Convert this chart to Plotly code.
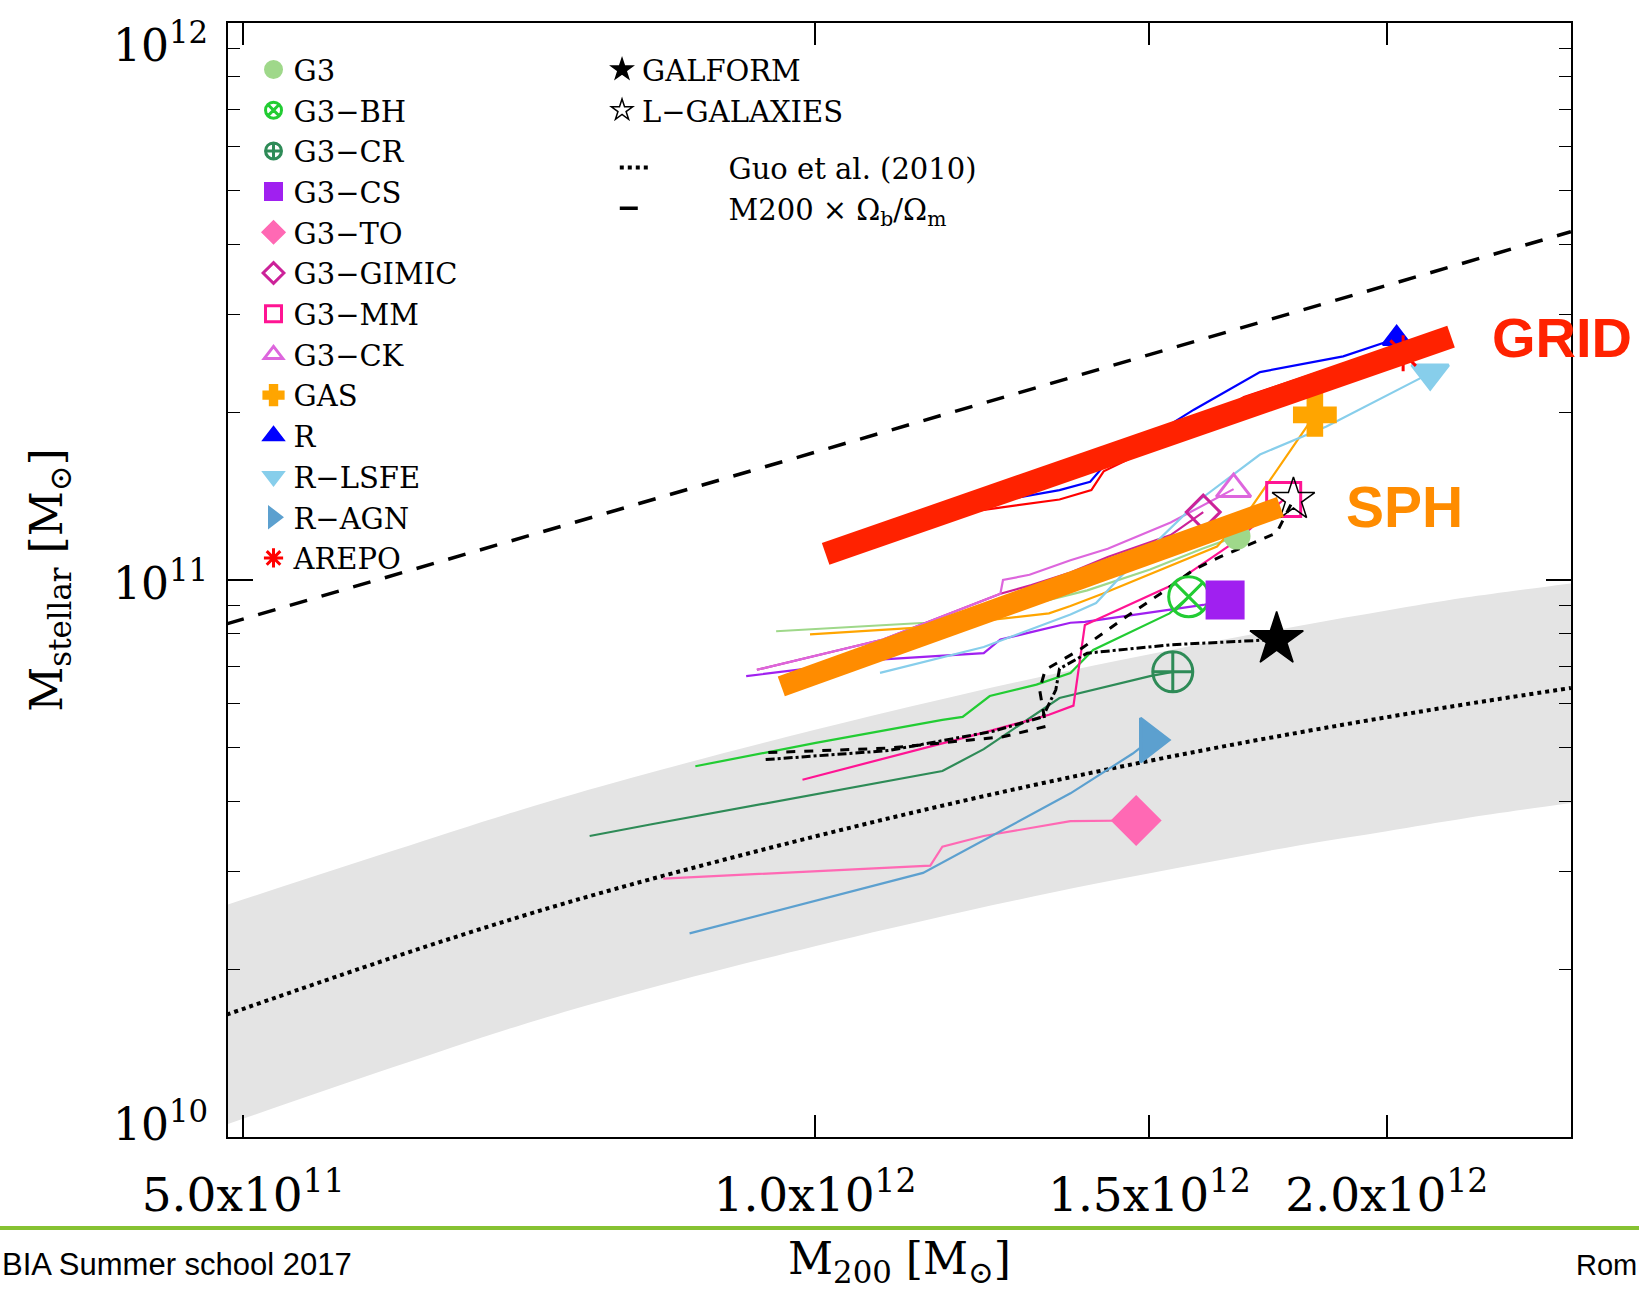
import math
import plotly.graph_objects as go

# ------------------------------------------------------------------
# Data  (M200 in units of 1e12 Msun, M_stellar in units of 1e10 Msun)
# ------------------------------------------------------------------
# Guo et al. (2010) relation and its scatter band
band_m200 = [0.49, 0.6, 0.7, 0.8, 1.0, 1.2, 1.4, 1.6, 1.8, 2.0, 2.2, 2.5]
guo_mstar = [1.658, 2.102, 2.488, 2.839, 3.464, 4.022, 4.512, 4.945, 5.327, 5.671, 5.983, 6.40]
band_upper = [2.610, 3.267, 3.866, 4.412, 5.383, 6.250, 7.012, 7.685, 8.278, 8.813, 9.298, 9.856]
band_lower = [1.053, 1.335, 1.588, 1.812, 2.201, 2.544, 2.842, 3.101, 3.341, 3.541, 3.736, 3.979]

# M200 x Omega_b/Omega_m
baryon_m200 = [0.49, 2.5]
baryon_mstar = [8.34, 42.2]

# simulations
g3_m200 = [0.954, 1.026, 1.144, 1.256, 1.391, 1.501, 1.599, 1.668]
g3_mstar = [8.09, 8.20, 8.38, 8.78, 9.58, 10.44, 11.38, 11.99]

g3bh_m200 = [0.865, 1.001, 1.167, 1.196, 1.236, 1.308, 1.363, 1.401, 1.537, 1.573]
g3bh_mstar = [4.63, 5.10, 5.61, 5.68, 6.19, 6.49, 6.81, 7.49, 8.71, 9.33]

g3cr_m200 = [0.761, 0.819, 1.167, 1.227, 1.345, 1.501, 1.543]
g3cr_mstar = [3.47, 3.64, 4.54, 4.97, 6.14, 6.72, 6.84]

g3cs_m200 = [0.920, 1.086, 1.227, 1.252, 1.363, 1.387, 1.601, 1.644]
g3cs_mstar = [6.72, 7.20, 7.39, 7.82, 8.38, 8.41, 9.02, 9.21]

g3to_m200 = [0.832, 1.150, 1.167, 1.227, 1.363, 1.476]
g3to_mstar = [2.91, 3.07, 3.32, 3.47, 3.69, 3.70]

g3ck_m200 = [0.932, 1.086, 1.252, 1.256, 1.297, 1.363, 1.426, 1.539, 1.661]
g3ck_mstar = [6.90, 7.82, 9.45, 10.00, 10.22, 10.85, 11.38, 12.68, 14.56]

g3gimic_m200 = [0.932, 1.086, 1.252, 1.300, 1.363, 1.426, 1.539, 1.601]
g3gimic_mstar = [6.90, 7.82, 9.45, 9.79, 10.31, 11.00, 12.04, 13.24]

g3mm_m200 = [0.985, 1.227, 1.328, 1.368, 1.387, 1.537, 1.668, 1.765]
g3mm_mstar = [4.38, 5.32, 5.73, 5.95, 8.30, 9.74, 11.78, 13.95]

gas_m200 = [0.994, 1.144, 1.328, 1.363, 1.417, 1.628, 1.689, 1.833]
gas_mstar = [7.99, 8.23, 8.71, 8.98, 9.45, 11.48, 13.19, 19.79]

r_m200 = [1.172, 1.227, 1.345, 1.396, 1.419, 1.583, 1.715, 1.897, 2.024]
r_mstar = [13.42, 13.71, 14.50, 15.01, 16.02, 20.22, 23.62, 25.21, 27.13]

arepo_m200 = [1.172, 1.227, 1.345, 1.398, 1.419, 1.579, 1.682, 1.885, 2.040]
arepo_mstar = [13.13, 13.36, 13.95, 14.50, 15.67, 18.71, 21.30, 24.24, 25.54]

rlsfe_m200 = [1.082, 1.227, 1.363, 1.406, 1.448, 1.595, 1.715, 1.859, 2.108]
rlsfe_mstar = [6.81, 7.58, 8.67, 9.09, 10.13, 13.95, 16.80, 18.87, 23.52]

ragn_m200 = [0.859, 1.140, 1.363, 1.470, 1.501]
ragn_mstar = [2.32, 2.98, 4.14, 4.88, 5.16]

galform_m200 = [0.942, 1.093, 1.241, 1.318, 1.339, 1.345, 1.391, 1.539, 1.750]
galform_mstar = [4.76, 4.94, 5.35, 5.68, 6.35, 6.93, 7.39, 7.65, 7.82]

lgal_m200 = [0.945, 1.093, 1.256, 1.323, 1.313, 1.322, 1.378, 1.459, 1.520, 1.583, 1.634, 1.750, 1.786]
lgal_mstar = [4.90, 4.99, 5.23, 5.46, 6.35, 6.90, 7.49, 8.60, 9.45, 10.44, 11.00, 12.15, 13.95]

# highlight bars
grid_bar_m200 = [1.013, 2.162]
grid_bar_mstar = [11.14, 27.35]
sph_bar_m200 = [0.960, 1.758]
sph_bar_mstar = [6.44, 13.53]

# axis ticks
x_tickvals = [0.5, 1.0, 1.5, 2.0]
x_ticktext = ["5.0x10<sup>11</sup>", "1.0x10<sup>12</sup>", "1.5x10<sup>12</sup>", "2.0x10<sup>12</sup>"]
y_tickvals = [1, 10, 100]
y_ticktext = ["10<sup>10</sup>", "10<sup>11</sup>", "10<sup>12</sup>"]
y_minor = [2, 3, 4, 5, 6, 7, 8, 9, 20, 30, 40, 50, 60, 70, 80, 90]

XU = 1e12
YU = 1e10


def sx(v):
    return [a * XU for a in v]


def sy(v):
    return [a * YU for a in v]


fig = go.Figure()

# band
fig.add_trace(go.Scatter(x=sx(band_m200), y=sy(band_lower), mode="lines",
                         line=dict(width=0, color="#e4e4e4", shape="spline"),
                         showlegend=False, hoverinfo="skip"))
fig.add_trace(go.Scatter(x=sx(band_m200), y=sy(band_upper), mode="lines", fill="tonexty",
                         fillcolor="#e4e4e4", line=dict(width=0, color="#e4e4e4", shape="spline"),
                         showlegend=False, hoverinfo="skip"))

NB = "\u00a0" * 8
# reference relations
fig.add_trace(go.Scatter(x=sx(band_m200), y=sy(guo_mstar), mode="lines", name=NB + "Guo et al. (2010)",
                         line=dict(color="black", width=4, dash="dot", shape="spline"), legend="legend3"))
fig.add_trace(go.Scatter(x=sx(baryon_m200), y=sy(baryon_mstar), mode="lines",
                         name=NB + "M200 \u00d7 \u03a9<sub>b</sub>/\u03a9<sub>m</sub>",
                         line=dict(color="black", width=3.5, dash="18px,15px"), legend="legend3"))

series = [
    ("G3", g3_m200, g3_mstar, "#9fd88a", "circle", 24, "solid"),
    ("G3\u2212BH", g3bh_m200, g3bh_mstar, "#22cc33", "circle-x-open", 40, "solid"),
    ("G3\u2212CR", g3cr_m200, g3cr_mstar, "#2e8b57", "circle-cross-open", 40, "solid"),
    ("G3\u2212CS", g3cs_m200, g3cs_mstar, "#a020f0", "square", 36, "solid"),
    ("G3\u2212TO", g3to_m200, g3to_mstar, "#ff69b4", "diamond", 36, "solid"),
    ("G3\u2212GIMIC", g3gimic_m200, g3gimic_mstar, "#cc2299", "diamond-open", 26, "solid"),
    ("G3\u2212MM", g3mm_m200, g3mm_mstar, "#ff1493", "square-open", 34, "solid"),
    ("G3\u2212CK", g3ck_m200, g3ck_mstar, "#dd66dd", "triangle-up-open", 30, "solid"),
    ("GAS", gas_m200, gas_mstar, "#ffa500", "cross", 34, "solid"),
    ("R", r_m200, r_mstar, "#0000ff", "triangle-up", 24, "solid"),
    ("R\u2212LSFE", rlsfe_m200, rlsfe_mstar, "#87ceeb", "triangle-down", 32, "solid"),
    ("R\u2212AGN", ragn_m200, ragn_mstar, "#5ca0cf", "triangle-right", 38, "solid"),
    ("AREPO", arepo_m200, arepo_mstar, "#ff0000", "asterisk-open", 30, "solid"),
]
others = [
    ("GALFORM", galform_m200, galform_mstar, "black", "star", 40, "dashdot"),
    ("L\u2212GALAXIES", lgal_m200, lgal_mstar, "black", "star-open", 32, "dash"),
]

for name, xs, ys, col, sym, size, dash in series + others:
    lw = 3 if col == "black" else 2.2
    fig.add_trace(go.Scatter(x=sx(xs), y=sy(ys), mode="lines", line=dict(color=col, width=lw, dash=dash),
                             showlegend=False, hoverinfo="skip"))

for name, xs, ys, col, sym, size, dash in series:
    fig.add_trace(go.Scatter(x=sx(xs[-1:]), y=sy(ys[-1:]), mode="markers", name=name,
                             marker=dict(symbol=sym, size=size, color=col, line=dict(color=col, width=3)),
                             legend="legend"))
for name, xs, ys, col, sym, size, dash in others:
    fig.add_trace(go.Scatter(x=sx(xs[-1:]), y=sy(ys[-1:]), mode="markers", name=name,
                             marker=dict(symbol=sym, size=size, color=col, line=dict(color=col, width=1.5)),
                             legend="legend2"))

# highlight bars
fig.add_trace(go.Scatter(x=sx(grid_bar_m200), y=sy(grid_bar_mstar), mode="lines",
                         line=dict(color="#ff2200", width=23), showlegend=False, hoverinfo="skip"))
fig.add_trace(go.Scatter(x=sx(sph_bar_m200), y=sy(sph_bar_mstar), mode="lines",
                         line=dict(color="#ff8c00", width=21), showlegend=False, hoverinfo="skip"))

axis_font = dict(family="DejaVu Serif", size=44, color="black")
xtick_font = dict(family="DejaVu Serif", size=47, color="black")

fig.update_xaxes(type="log", range=[11.691, 12.398], automargin=False,
                 tickvals=sx(x_tickvals), ticktext=x_ticktext, tickfont=xtick_font,
                 ticks="inside", ticklen=22, tickwidth=1.5, tickcolor="black",
                 showline=True, linecolor="black", linewidth=2, mirror="ticks",
                 showgrid=False, zeroline=False, ticklabelstandoff=16,
                 title=dict(text="M<sub>200</sub> [M<sub>\u2299</sub>]", font=axis_font, standoff=22))
fig.update_yaxes(type="log", range=[10, 12], automargin=False,
                 tickvals=sy(y_tickvals), ticktext=y_ticktext, showticklabels=False,
                 ticks="inside", ticklen=25, tickwidth=1.5, tickcolor="black",
                 minor=dict(tickvals=sy(y_minor), ticks="inside", ticklen=12, tickwidth=1.2,
                            tickcolor="black", showgrid=False),
                 showline=True, linecolor="black", linewidth=2, mirror="ticks",
                 showgrid=False, zeroline=False,
                 title=dict(text="M<sub>stellar</sub> [M<sub>\u2299</sub>]", font=axis_font, standoff=150))

# y tick labels placed at their tick values (nudged inside the frame like the original)
y_label_shift = [16, 0, -19]
for val, txt, dy in zip(y_tickvals, y_ticktext, y_label_shift):
    fig.add_annotation(x=0, y=math.log10(val * YU), xref="paper", yref="y", text=txt,
                       showarrow=False, xanchor="right", yanchor="middle", xshift=-18, yshift=dy,
                       font=axis_font)

legend_font = dict(family="DejaVu Serif", size=29, color="black")
fig.update_layout(
    width=1639, height=1292,
    margin=dict(l=228, r=68, t=23, b=155),
    paper_bgcolor="white", plot_bgcolor="white",
    font=dict(family="DejaVu Serif", color="black"),
    hovermode=False,
    legend=dict(x=0.019, y=0.981, xanchor="left", yanchor="top", bgcolor="rgba(0,0,0,0)",
                font=legend_font, itemsizing="trace", tracegroupgap=0, traceorder="normal"),
    legend2=dict(x=0.2785, y=0.981, xanchor="left", yanchor="top", bgcolor="rgba(0,0,0,0)",
                 font=legend_font, itemsizing="trace", tracegroupgap=0, traceorder="normal"),
    legend3=dict(x=0.288, y=0.893, xanchor="left", yanchor="top", bgcolor="rgba(0,0,0,0)",
                 font=legend_font, tracegroupgap=0, traceorder="normal"),
)

# GRID / SPH labels (annotation x,y in log10 units on log axes)
fig.add_annotation(x=12.3556, y=11.4353, xref="x", yref="y", text="<b>GRID</b>", showarrow=False,
                   xanchor="left", yanchor="middle",
                   font=dict(family="Liberation Sans", size=56, color="#ff2200"))
fig.add_annotation(x=12.2786, y=11.1313, xref="x", yref="y", text="<b>SPH</b>", showarrow=False,
                   xanchor="left", yanchor="middle",
                   font=dict(family="Liberation Sans", size=57, color="#ff8c00"))

# slide footer
fig.add_shape(type="line", xref="paper", yref="paper", x0=-0.17, x1=1.051, y0=-0.0817, y1=-0.0817,
              line=dict(color="#86c232", width=4))
fig.add_annotation(x=-0.1698, y=-0.1149, xref="paper", yref="paper", text="BIA Summer school 2017",
                   showarrow=False, xanchor="left", yanchor="middle",
                   font=dict(family="Liberation Sans", size=31, color="black"))
fig.add_annotation(x=1.0022, y=-0.1149, xref="paper", yref="paper", text="Rom",
                   showarrow=False, xanchor="left", yanchor="middle",
                   font=dict(family="Liberation Sans", size=29, color="black"))

fig.write_html("out.html")
